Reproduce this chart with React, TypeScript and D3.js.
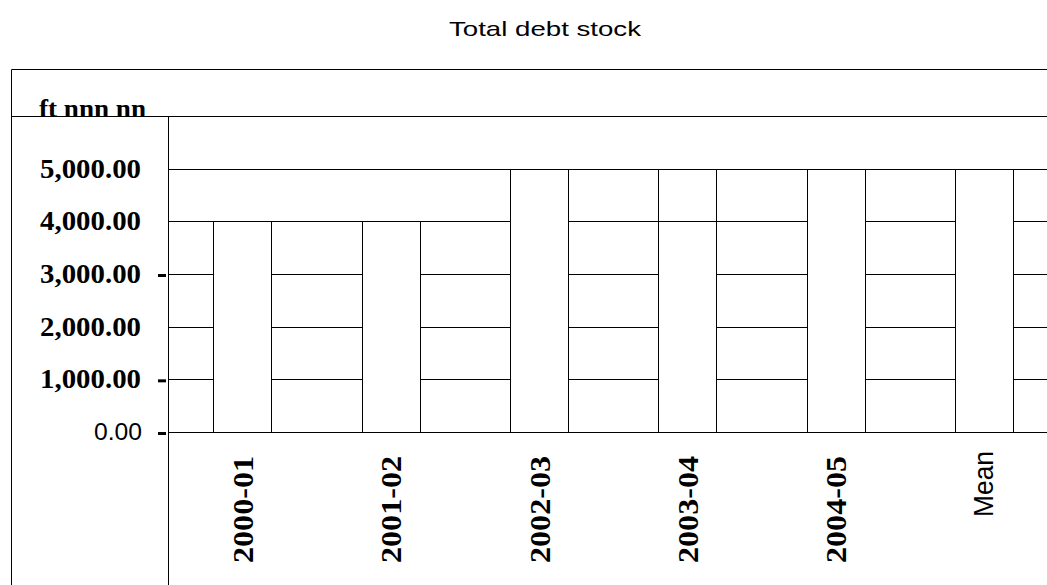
import React from "react";
import * as d3 from "d3";

const title = "Total debt stock";
const categories = ["2000-01", "2001-02", "2002-03", "2003-04", "2004-05", "Mean"];
const baseValues = [4000, 4000, 5000, 4000, 5000, 5000];
const upperValues = [0, 0, 0, 1000, 0, 0];
const yTicks = [0, 1000, 2000, 3000, 4000, 5000, 6000];
const yTickLabels = ["0.00", "1,000.00", "2,000.00", "3,000.00", "4,000.00", "5,000.00", "ft nnn nn"];
const dashTicks = [0, 1000, 3000];

const W = 1047;
const H = 585;
const left = 168;
const step = 148.4;
const y0 = 432;
const yTop = 116;

export default function App() {
  const x = d3
    .scaleBand<string>()
    .domain(categories)
    .range([left, left + step * categories.length])
    .padding(0);
  const y = d3.scaleLinear().domain([0, 6000]).range([y0, yTop]);
  const barW = x.bandwidth() * 0.391;

  const rows = categories.map((c, i) => ({ cat: c, base: baseValues[i], upper: upperValues[i] }));
  const stacked = d3.stack<any>().keys(["base", "upper"])(rows);

  const px = (v: number) => Math.round(v) + 0.5;

  return (
    <svg
      width={W}
      height={H}
      style={{ position: "absolute", left: 0, top: 0, background: "#fff" }}
    >
      <rect x={0} y={0} width={W} height={H} fill="#fff" />
      <text
        x={545}
        y={36}
        textAnchor="middle"
        fontFamily="'Liberation Sans', Arial, sans-serif"
        fontSize={21}
        textLength={192}
        lengthAdjust="spacingAndGlyphs"
        fill="#000"
      >
        {title}
      </text>
      {/* outer frame */}
      <path d={`M${px(11)},${H} V${px(69)} H${W}`} fill="none" stroke="#000" strokeWidth={1} />
      {/* gridlines */}
      {yTicks.map((t) => (
        <line
          key={"g" + t}
          x1={t === 6000 ? 11 : left}
          x2={W}
          y1={px(y(t))}
          y2={px(y(t))}
          stroke="#000"
          strokeWidth={1}
        />
      ))}
      {/* bars */}
      {stacked.map((layer) =>
        layer.map((d, i) => {
          if (d[1] - d[0] <= 0) return null;
          const cx = (x(categories[i]) as number) + x.bandwidth() / 2;
          const xa = Math.round(cx - barW / 2) + 0.5;
          const xb = Math.round(cx + barW / 2) + 0.5;
          const ya = px(y(d[1]));
          const yb = px(y(d[0]));
          return (
            <rect
              key={layer.key + i}
              x={xa}
              y={ya}
              width={xb - xa}
              height={yb - ya}
              fill="#fff"
              stroke="#000"
              strokeWidth={1}
            />
          );
        })
      )}
      {/* y axis line */}
      <line x1={px(left)} x2={px(left)} y1={px(yTop)} y2={H} stroke="#000" strokeWidth={1} />
      {/* dashes */}
      {dashTicks.map((t) => (
        <line key={"d" + t} x1={158} x2={166} y1={y(t) + 1.5} y2={y(t) + 1.5} stroke="#000" strokeWidth={3} />
      ))}
      {/* y labels */}
      {yTicks.map((t, i) => {
        const lab = yTickLabels[i];
        if (t === 0) {
          return (
            <text
              key={"l" + t}
              x={142}
              y={y(t) + 7.5}
              textAnchor="end"
              fontFamily="'Liberation Sans', Arial, sans-serif"
              fontSize={23}
              textLength={48}
              lengthAdjust="spacingAndGlyphs"
              fill="#000"
            >
              {lab}
            </text>
          );
        }
        if (t === 6000) {
          return (
            <text
              key={"l" + t}
              x={146}
              y={y(t) + 1}
              textAnchor="end"
              fontFamily="'Liberation Serif', 'Times New Roman', serif"
              fontWeight="bold"
              fontSize={26}
              textLength={107}
              lengthAdjust="spacingAndGlyphs"
              fill="#000"
            >
              {lab}
            </text>
          );
        }
        return (
          <text
            key={"l" + t}
            x={141}
            y={y(t) + 9}
            textAnchor="end"
            fontFamily="'Liberation Serif', 'Times New Roman', serif"
            fontWeight="bold"
            fontSize={26.5}
            textLength={101}
            lengthAdjust="spacingAndGlyphs"
            fill="#000"
          >
            {lab}
          </text>
        );
      })}
      {/* x labels */}
      {categories.map((c) => {
        const cx = (x(c) as number) + x.bandwidth() / 2;
        const isMean = c === "Mean";
        const bx = cx + (isMean ? 9 : 10.5);
        const by = isMean ? 451 : 456;
        return (
          <text
            key={"x" + c}
            transform={`translate(${bx},${by}) rotate(-90)`}
            textAnchor="end"
            fontFamily={isMean ? "'Liberation Sans', Arial, sans-serif" : "'Liberation Serif', 'Times New Roman', serif"}
            fontWeight={isMean ? "normal" : "bold"}
            fontSize={isMean ? 27 : 29}
            textLength={isMean ? 66 : 107}
            lengthAdjust="spacingAndGlyphs"
            fill="#000"
          >
            {c}
          </text>
        );
      })}
    </svg>
  );
}
